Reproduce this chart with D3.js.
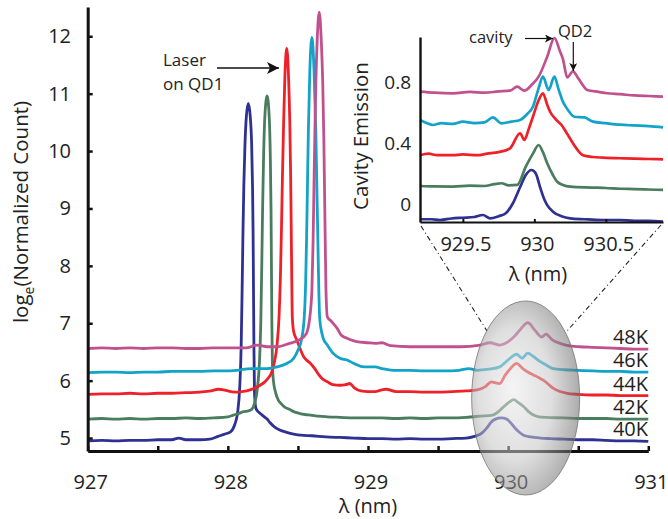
<!DOCTYPE html>
<html><head><meta charset="utf-8">
<script src="https://cdn.jsdelivr.net/npm/d3@7"></script>
<style>html,body{margin:0;padding:0;background:#fff;} svg{display:block;font-family:"Open Sans",sans-serif;}</style>
</head><body>
<svg id="c" width="668" height="519"></svg>
<script>
const temps = ["40K","42K","44K","46K","48K"];
const colors = ["#2e3192","#4a7c5e","#ee2129","#13a2c8","#c1518e"];
const mainXTicks = [927,927.5,928,928.5,929,929.5,930,930.5,931];
const mainXLabels = [927,928,929,930,931];
const mainYTicks = [5,6,7,8,9,10,11,12];
const insetXTicks = [929.5,930,930.5];
const insetYTicks = [0,0.4,0.8];

const main40 = [[927.0,4.95],[927.1,4.96],[927.2,4.95],[927.3,4.96],[927.4,4.96],[927.5,4.97],[927.6,4.97],[927.65,5.0],[927.7,4.97],[927.8,4.97],[927.87,4.98],[927.93,5.03],[927.98,5.07],[928.02,5.11],[928.05,5.24],[928.07,5.45],[928.085,5.9],[928.095,6.6],[928.102,7.6],[928.108,8.6],[928.114,9.4],[928.122,10.1],[928.132,10.6],[928.146,10.83],[928.16,10.6],[928.17,10.1],[928.176,9.4],[928.18,8.6],[928.183,7.6],[928.186,6.6],[928.19,5.8],[928.2,5.52],[928.22,5.45],[928.245,5.4],[928.265,5.36],[928.28,5.33],[928.3,5.27],[928.33,5.2],[928.37,5.14],[928.42,5.1],[928.47,5.07],[928.52,5.05],[928.6,5.04],[928.7,5.02],[928.8,5.01],[928.9,5.0],[929.0,4.99],[929.1,4.99],[929.2,4.98],[929.3,4.99],[929.4,4.98],[929.5,4.98],[929.6,4.99],[929.7,5.0],[929.76,5.03],[929.81,5.08],[929.85,5.18],[929.88,5.28],[929.91,5.33],[929.95,5.35],[929.99,5.33],[930.02,5.26],[930.05,5.17],[930.08,5.1],[930.11,5.05],[930.16,5.02],[930.23,5.0],[930.3,4.99],[930.4,4.98],[930.5,4.97],[930.6,4.97],[930.7,4.96],[930.8,4.95],[930.9,4.95],[931.0,4.94]];
const main42 = [[927.0,5.33],[927.1,5.34],[927.2,5.33],[927.3,5.34],[927.4,5.33],[927.5,5.34],[927.6,5.34],[927.7,5.35],[927.8,5.34],[927.9,5.35],[928.0,5.37],[928.04,5.40],[928.08,5.43],[928.11,5.46],[928.14,5.47],[928.17,5.5],[928.19,5.6],[928.21,5.85],[928.225,6.3],[928.235,7.0],[928.242,8.0],[928.248,9.0],[928.255,9.9],[928.264,10.6],[928.28,10.96],[928.295,10.6],[928.303,9.9],[928.308,9.0],[928.311,8.0],[928.314,7.0],[928.318,6.3],[928.325,6.0],[928.34,5.8],[928.36,5.66],[928.38,5.6],[928.40,5.55],[928.44,5.5],[928.47,5.46],[928.51,5.43],[928.55,5.41],[928.59,5.40],[928.65,5.38],[928.71,5.37],[928.8,5.36],[928.9,5.35],[929.0,5.35],[929.1,5.35],[929.2,5.34],[929.3,5.35],[929.4,5.34],[929.5,5.35],[929.6,5.35],[929.7,5.36],[929.8,5.38],[929.89,5.40],[929.94,5.48],[929.97,5.55],[930.01,5.63],[930.04,5.67],[930.07,5.62],[930.11,5.55],[930.15,5.45],[930.18,5.40],[930.22,5.37],[930.27,5.36],[930.4,5.35],[930.5,5.34],[930.6,5.34],[930.7,5.34],[930.8,5.33],[930.9,5.33],[931.0,5.33]];
const main44 = [[927.0,5.76],[927.1,5.77],[927.2,5.77],[927.3,5.78],[927.4,5.77],[927.5,5.78],[927.6,5.78],[927.7,5.79],[927.8,5.8],[927.88,5.82],[927.93,5.85],[927.97,5.84],[928.0,5.82],[928.05,5.8],[928.1,5.81],[928.16,5.84],[928.2,5.88],[928.23,5.92],[928.26,5.97],[928.29,6.05],[928.31,6.13],[928.33,6.3],[928.35,6.6],[928.365,7.1],[928.375,7.8],[928.383,8.7],[928.39,9.6],[928.398,10.5],[928.407,11.3],[928.42,11.79],[928.433,11.3],[928.442,10.5],[928.448,9.6],[928.452,8.7],[928.456,7.8],[928.46,7.1],[928.47,6.85],[928.49,6.72],[928.51,6.59],[928.54,6.42],[928.57,6.34],[928.59,6.30],[928.62,6.21],[928.65,6.10],[928.67,6.04],[928.71,5.98],[928.75,5.93],[928.8,5.92],[928.84,5.93],[928.87,5.95],[928.9,5.88],[928.95,5.82],[929.0,5.81],[929.05,5.81],[929.1,5.84],[929.13,5.85],[929.2,5.81],[929.3,5.81],[929.4,5.80],[929.5,5.80],[929.6,5.81],[929.7,5.82],[929.78,5.84],[929.84,5.9],[929.88,5.98],[929.91,5.96],[929.94,5.95],[929.98,6.1],[930.02,6.22],[930.06,6.30],[930.1,6.22],[930.14,6.15],[930.18,6.10],[930.22,6.05],[930.25,6.01],[930.29,5.93],[930.32,5.87],[930.37,5.81],[930.42,5.78],[930.5,5.76],[930.6,5.75],[930.7,5.75],[930.8,5.74],[930.9,5.74],[931.0,5.74]];
const main46 = [[927.0,6.14],[927.1,6.15],[927.2,6.15],[927.3,6.14],[927.4,6.15],[927.5,6.15],[927.6,6.16],[927.7,6.16],[927.8,6.16],[927.9,6.17],[928.0,6.17],[928.1,6.19],[928.16,6.21],[928.22,6.21],[928.28,6.21],[928.35,6.24],[928.42,6.3],[928.47,6.39],[928.5,6.53],[928.525,6.71],[928.545,7.1],[928.555,7.7],[928.562,8.5],[928.568,9.4],[928.575,10.4],[928.585,11.4],[928.6,11.98],[928.615,11.4],[928.627,10.4],[928.635,9.4],[928.642,8.5],[928.648,7.7],[928.655,7.1],[928.665,6.9],[928.68,6.74],[928.71,6.62],[928.75,6.48],[928.8,6.39],[928.85,6.36],[928.9,6.30],[928.97,6.24],[929.05,6.24],[929.1,6.21],[929.18,6.18],[929.3,6.18],[929.4,6.17],[929.54,6.17],[929.65,6.18],[929.72,6.21],[929.78,6.18],[929.86,6.2],[929.94,6.24],[930.0,6.36],[930.06,6.46],[930.1,6.39],[930.14,6.48],[930.18,6.42],[930.23,6.33],[930.28,6.26],[930.32,6.21],[930.4,6.19],[930.49,6.18],[930.6,6.17],[930.7,6.16],[930.8,6.16],[930.9,6.15],[931.0,6.15]];
const main48 = [[927.0,6.56],[927.1,6.57],[927.2,6.56],[927.3,6.57],[927.4,6.56],[927.5,6.57],[927.6,6.57],[927.7,6.56],[927.8,6.56],[927.9,6.57],[928.0,6.57],[928.13,6.57],[928.21,6.62],[928.28,6.59],[928.35,6.59],[928.44,6.65],[928.51,6.71],[928.56,6.82],[928.585,7.11],[928.6,7.6],[928.608,8.4],[928.614,9.3],[928.62,10.2],[928.628,11.2],[928.637,11.9],[928.652,12.42],[928.667,11.9],[928.677,11.2],[928.685,10.2],[928.69,9.3],[928.695,8.4],[928.7,7.6],[928.71,7.11],[928.74,7.03],[928.78,6.91],[928.81,6.79],[928.85,6.74],[928.92,6.68],[929.0,6.66],[929.05,6.65],[929.1,6.66],[929.16,6.61],[929.3,6.59],[929.45,6.59],[929.66,6.59],[929.8,6.62],[929.87,6.66],[929.94,6.62],[930.04,6.76],[930.09,6.9],[930.14,7.01],[930.19,6.88],[930.24,6.76],[930.27,6.81],[930.31,6.72],[930.37,6.65],[930.45,6.6],[930.51,6.59],[930.6,6.58],[930.7,6.57],[930.8,6.56],[930.9,6.55],[931.0,6.55]];

const inset40 = [[929.2,-0.10],[929.28,-0.1],[929.34,-0.105],[929.42,-0.095],[929.5,-0.09],[929.58,-0.085],[929.64,-0.072],[929.69,-0.094],[929.75,-0.08],[929.8,-0.061],[929.85,0.005],[929.9,0.11],[929.94,0.19],[929.98,0.223],[930.01,0.2],[930.04,0.11],[930.07,0.03],[930.09,-0.007],[930.13,-0.05],[930.19,-0.08],[930.25,-0.094],[930.35,-0.1],[930.48,-0.105],[930.6,-0.105],[930.7,-0.11],[930.8,-0.11],[930.9,-0.116]];
const inset42 = [[929.2,0.118],[929.3,0.115],[929.43,0.114],[929.55,0.12],[929.65,0.118],[929.72,0.13],[929.77,0.136],[929.82,0.122],[929.88,0.125],[929.94,0.245],[929.99,0.33],[930.03,0.387],[930.06,0.34],[930.09,0.267],[930.13,0.19],[930.16,0.146],[930.2,0.125],[930.25,0.114],[930.4,0.108],[930.5,0.105],[930.6,0.1],[930.7,0.098],[930.8,0.095],[930.9,0.092]];
const inset44 = [[929.2,0.32],[929.26,0.33],[929.32,0.32],[929.43,0.32],[929.5,0.325],[929.6,0.32],[929.67,0.33],[929.75,0.34],[929.83,0.365],[929.9,0.464],[929.93,0.42],[929.96,0.49],[929.99,0.572],[930.03,0.68],[930.06,0.726],[930.09,0.65],[930.11,0.605],[930.15,0.555],[930.19,0.518],[930.23,0.46],[930.27,0.398],[930.31,0.345],[930.34,0.32],[930.41,0.308],[930.48,0.304],[930.6,0.3],[930.7,0.298],[930.8,0.295],[930.9,0.293]];
const inset46 = [[929.2,0.551],[929.25,0.53],[929.29,0.518],[929.35,0.53],[929.43,0.525],[929.5,0.54],[929.58,0.53],[929.65,0.535],[929.71,0.568],[929.77,0.529],[929.84,0.54],[929.9,0.551],[929.95,0.59],[929.99,0.638],[930.03,0.76],[930.06,0.835],[930.1,0.748],[930.14,0.835],[930.17,0.75],[930.2,0.67],[930.24,0.61],[930.28,0.572],[930.35,0.568],[930.41,0.54],[930.5,0.53],[930.6,0.52],[930.7,0.515],[930.8,0.51],[930.9,0.503]];
const inset48 = [[929.2,0.737],[929.3,0.73],[929.43,0.726],[929.55,0.735],[929.65,0.73],[929.75,0.738],[929.83,0.743],[929.88,0.769],[929.93,0.743],[929.98,0.78],[930.03,0.835],[930.09,0.966],[930.14,1.087],[930.18,1.0],[930.2,0.95],[930.23,0.83],[930.27,0.87],[930.31,0.82],[930.37,0.748],[930.45,0.735],[930.51,0.726],[930.6,0.72],[930.7,0.712],[930.8,0.708],[930.9,0.704]];

const mainSeries = [main40, main42, main44, main46, main48];
const insetSeries = [inset40, inset42, inset44, inset46, inset48];

const svg = d3.select("#c");
const defs = svg.append("defs");

// ---------- main plot ----------
const x = d3.scaleLinear().domain([927, 931]).range([87.7, 648.3]);
const y = d3.scaleLinear().domain([4.774, 12.51]).range([451, 7]);
const line = d3.line().x(d => x(d[0])).y(d => y(d[1])).curve(d3.curveMonotoneX);

const gMain = svg.append("g");
mainSeries.forEach((s, i) => {
  gMain.append("path").datum(s).attr("d", line)
    .attr("fill", "none").attr("stroke", colors[i]).attr("stroke-width", 2.8)
    .attr("stroke-linejoin", "round");
});

// axes
const xAxis = d3.axisBottom(x).tickValues(mainXTicks).tickSize(-5).tickFormat("").tickSizeOuter(0);
const gx = svg.append("g").attr("transform", "translate(0,451)").call(xAxis);
gx.select(".domain").attr("stroke", "#111").attr("stroke-width", 3);
gx.selectAll(".tick line").attr("stroke", "#111").attr("stroke-width", 2.5);
svg.append("g").selectAll("text").data(mainXLabels).join("text")
  .attr("x", d => x(d) + 3).attr("y", 489).attr("text-anchor", "middle")
  .attr("font-size", 20).attr("fill", "#222").text(d => d);

const yAxis = d3.axisLeft(y).tickValues(mainYTicks).tickSize(-5).tickFormat("").tickSizeOuter(0);
const gy = svg.append("g").attr("transform", "translate(87.7,0)").call(yAxis);
gy.select(".domain").attr("stroke", "#111").attr("stroke-width", 3);
gy.selectAll(".tick line").attr("stroke", "#111").attr("stroke-width", 2.5);
svg.append("g").selectAll("text").data(mainYTicks).join("text")
  .attr("x", 71).attr("y", d => y(d) + 7).attr("text-anchor", "end")
  .attr("font-size", 20).attr("fill", "#222").text(d => d);

// y label
const yl = svg.append("text").attr("transform", "translate(28,212) rotate(-90)")
  .attr("text-anchor", "middle").attr("font-size", 20.5).attr("fill", "#222");
yl.append("tspan").text("log");
yl.append("tspan").attr("font-size", 14).attr("dy", 6).text("e");
yl.append("tspan").attr("dy", -6).text("(Normalized Count)");

// x label
svg.append("text").attr("x", 368).attr("y", 513).attr("text-anchor", "middle")
  .attr("font-size", 20).attr("fill", "#222").text("λ (nm)");

// legend labels
const lastVals = mainSeries.map(s => s[s.length - 1][1]);
svg.append("g").selectAll("text").data(temps).join("text")
  .attr("x", 648).attr("y", (d, i) => y(lastVals[i]) - 5)
  .attr("text-anchor", "end").attr("font-size", 20).attr("fill", "#222").text(d => d);

// Laser annotation
defs.append("marker").attr("id", "arr").attr("viewBox", "0 0 10 10").attr("refX", 10).attr("refY", 5)
  .attr("markerWidth", 8).attr("markerHeight", 8).attr("markerUnits", "userSpaceOnUse").attr("orient", "auto")
  .append("path").attr("d", "M0,0 L10,5 L0,10 L2.5,5 Z").attr("fill", "#111");
defs.append("marker").attr("id", "arrBig").attr("viewBox", "0 0 10 10").attr("refX", 10).attr("refY", 5)
  .attr("markerWidth", 13).attr("markerHeight", 12).attr("markerUnits", "userSpaceOnUse").attr("orient", "auto")
  .append("path").attr("d", "M0,0 L10,5 L0,10 L2.5,5 Z").attr("fill", "#111");
svg.append("text").attr("x", 163).attr("y", 66).attr("font-size", 17).attr("fill", "#222").text("Laser");
svg.append("text").attr("x", 163).attr("y", 90).attr("font-size", 17).attr("fill", "#222").text("on QD1");
svg.append("line").attr("x1", 217).attr("y1", 68).attr("x2", 279).attr("y2", 68)
  .attr("stroke", "#111").attr("stroke-width", 1.6).attr("marker-end", "url(#arrBig)");

// ---------- inset ----------
const xi = d3.scaleLinear().domain([929.2, 930.9]).range([420, 663]);
const yi = d3.scaleLinear().domain([-0.118, 1.095]).range([222, 37]);
const linei = d3.line().x(d => xi(d[0])).y(d => yi(d[1])).curve(d3.curveMonotoneX);
insetSeries.forEach((s, i) => {
  svg.append("path").datum(s).attr("d", linei)
    .attr("fill", "none").attr("stroke", colors[i]).attr("stroke-width", 2.7)
    .attr("stroke-linejoin", "round");
});
const xiAxis = d3.axisBottom(xi).tickValues(insetXTicks).tickSize(-3).tickFormat("").tickSizeOuter(0);
const gxi = svg.append("g").attr("transform", "translate(0,222)").call(xiAxis);
gxi.select(".domain").attr("stroke", "#111").attr("stroke-width", 2.2);
gxi.selectAll(".tick line").attr("stroke", "#111").attr("stroke-width", 2);
svg.append("g").selectAll("text").data(insetXTicks).join("text")
  .attr("x", d => xi(d) + 3).attr("y", 251).attr("text-anchor", "middle")
  .attr("font-size", 20).attr("fill", "#222").text(d => d);
const yiAxis = d3.axisLeft(yi).tickValues([]).tickSizeOuter(0);
const gyi = svg.append("g").attr("transform", "translate(420,0)").call(yiAxis);
gyi.select(".domain").attr("stroke", "#111").attr("stroke-width", 2.4);
svg.append("g").selectAll("text").data(insetYTicks).join("text")
  .attr("x", 411).attr("y", d => yi(d) + 7).attr("text-anchor", "end")
  .attr("font-size", 19).attr("fill", "#222").text(d => d);
svg.append("text").attr("transform", "translate(368,136) rotate(-90)").attr("text-anchor", "middle")
  .attr("font-size", 20.5).attr("fill", "#222").text("Cavity Emission");
svg.append("text").attr("x", 538).attr("y", 281).attr("text-anchor", "middle")
  .attr("font-size", 20).attr("fill", "#222").text("λ (nm)");

// cavity / QD2 annotations
svg.append("text").attr("x", 469).attr("y", 43).attr("font-size", 16.5).attr("fill", "#222").text("cavity");
svg.append("line").attr("x1", 525).attr("y1", 38.5).attr("x2", 553).attr("y2", 38.5)
  .attr("stroke", "#111").attr("stroke-width", 1.2).attr("marker-end", "url(#arr)");
svg.append("text").attr("x", 558).attr("y", 37).attr("font-size", 16.5).attr("fill", "#222").text("QD2");
svg.append("line").attr("x1", 573.3).attr("y1", 42).attr("x2", 573.3).attr("y2", 71)
  .attr("stroke", "#111").attr("stroke-width", 1.2).attr("marker-end", "url(#arr)");

// dash-dot zoom lines
svg.append("line").attr("x1", 421).attr("y1", 226).attr("x2", 487).attr("y2", 331)
  .attr("stroke", "#222").attr("stroke-width", 1.1).attr("stroke-dasharray", "5,3,1,3");
svg.append("line").attr("x1", 661).attr("y1", 225).attr("x2", 567).attr("y2", 331)
  .attr("stroke", "#222").attr("stroke-width", 1.1).attr("stroke-dasharray", "5,3,1,3");

// ellipse highlight
const grad = defs.append("radialGradient").attr("id", "eg")
  .attr("cx", "0.42").attr("cy", "0.5").attr("r", "0.62").attr("fx", "0.38").attr("fy", "0.45");
grad.append("stop").attr("offset", "0").attr("stop-color", "#ececec");
grad.append("stop").attr("offset", "0.55").attr("stop-color", "#c4c4c4");
grad.append("stop").attr("offset", "1").attr("stop-color", "#5a5a5a");
svg.append("ellipse").attr("cx", x(930.125)).attr("cy", 398).attr("rx", 54).attr("ry", 97)
  .attr("fill", "url(#eg)").attr("fill-opacity", 0.55)
  .attr("stroke", "#777").attr("stroke-width", 1).attr("stroke-opacity", 0.8);
</script>
</body></html>
